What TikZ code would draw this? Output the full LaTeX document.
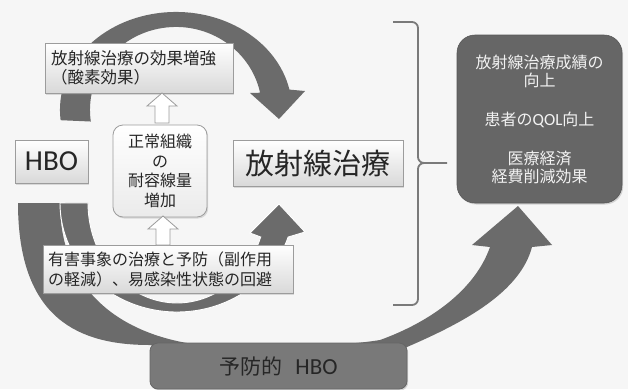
\documentclass[tikz,border=0pt]{standalone}
\usepackage{fontspec}
\setmainfont{Carlito}
\newfontfamily\jp{Noto Sans CJK JP}
\newfontfamily\lat{Carlito}
\usetikzlibrary{shadows}
\definecolor{bg}{HTML}{F6F6F6}
\definecolor{arrowgray}{HTML}{6B6B6B}
\definecolor{darkbox}{HTML}{666666}
\definecolor{boxedge}{HTML}{9C9C9C}
\definecolor{txt}{HTML}{262626}
\definecolor{bracketgray}{HTML}{7A7A7A}
\definecolor{lighttxt}{HTML}{F2F2F2}
\definecolor{midbox}{HTML}{797979}
\begin{document}
\begin{tikzpicture}[x=1pt,y=-1pt,
  lightbox/.style={draw=boxedge, line width=0.8pt, top color=white, bottom color=black!15,
    inner sep=0pt, text=txt,
    drop shadow={opacity=0.25, shadow xshift=1.2pt, shadow yshift=-1.5pt}},
  hollowarrow/.style={draw=boxedge, line width=0.8pt, fill=white},
  bigarrow/.style={fill=arrowgray}]
\useasboundingbox (0,0) rectangle (628,389);
\fill[bg] (0,0) rectangle (628,389);

% big outer arrow (preventive HBO)
\fill[bigarrow] (18,203) .. controls (18,320) and (80,345) .. (150,345)
  .. controls (250,372) and (350,368) .. (407,347)
  .. controls (465,322) and (520,292) .. (532,247)
  -- (552,245) -- (518,206) -- (472,245) -- (490,247)
  .. controls (475,290) and (430,322) .. (380,340)
  .. controls (330,348) and (250,348) .. (200,345)
  .. controls (120,335) and (60,290) .. (60,203) -- cycle;

% inner bottom arc arrow
\path[bigarrow, draw=white, line width=0.9pt] (60,203)
  arc[start angle=180, end angle=18.2, x radius=117, y radius=109]
  -- (305,232) -- (279,204) -- (250,233) -- (260.7,237)
  arc[start angle=19.9, end angle=180, x radius=89, y radius=100] -- cycle;

% top arc arrow
\fill[bigarrow] (60.6,120.2)
  arc[start angle=174, end angle=348, x radius=116, y radius=98]
  -- (305,91) -- (279,119) -- (250,93) -- (260.1,92.7)
  arc[start angle=348, end angle=172, x radius=86, y radius=83] -- cycle;

% bracket
\draw[bracketgray, line width=1.8pt, rounded corners=6pt]
  (393,22) -- (418,22) -- (418,163) -- (447,163);
\draw[bracketgray, line width=1.8pt, rounded corners=6pt]
  (393,305) -- (418,305) -- (418,163) -- (426,163);

% boxes
\node[lightbox, minimum width=188pt, minimum height=50pt, text width=176pt, align=left,
  font=\jp\fontsize{16.5}{19}\selectfont] (effect) at (139,68) {放射線治療の効果増強\\（酸素効果）};
\node[lightbox, minimum width=73pt, minimum height=43pt, font=\lat\fontsize{29}{32}\selectfont]
  (hbo) at (51.5,161.5) {HBO};
\node[lightbox, minimum width=170pt, minimum height=46pt, font=\jp\fontsize{29}{32}\selectfont]
  (rt) at (318,163) {放射線治療};
\node[lightbox, rounded corners=10pt, top color=white, bottom color=black!8,
  minimum width=94pt, minimum height=92pt, align=center,
  font=\jp\fontsize{16}{19.5}\selectfont] (tol) at (160,171) {正常組織\\の\\耐容線量\\増加};
\node[lightbox, minimum width=250pt, minimum height=48pt, text width=240pt, align=left,
  font=\jp\fontsize{16}{20}\selectfont] (adv) at (168,269)
  {有害事象の治療と予防（副作用\\の軽減）、易感染性状態の回避};
\node[fill=darkbox, draw=darkbox!85!black, line width=0.6pt, rounded corners=18pt,
  minimum width=165pt, minimum height=168pt, align=center, text=lighttxt,
  font=\jp\fontsize{16}{18}\selectfont,
  drop shadow={opacity=0.3, shadow xshift=1.2pt, shadow yshift=-1.5pt}] (res) at (539.5,119)
  {放射線治療成績の\\向上\\[21pt]患者の{\lat\fontsize{17}{18}\selectfont QOL}向上\\[21pt]医療経済\\経費削減効果};
\node[fill=midbox, draw=black!60, line width=0.8pt, rounded corners=8pt,
  minimum width=257pt, minimum height=46pt, text=txt,
  drop shadow={opacity=0.3, shadow xshift=1.2pt, shadow yshift=-1.5pt}] (prev) at (278.5,366)
  {{\jp\fontsize{21}{24}\selectfont 予防的}\hspace{13pt}{\lat\fontsize{23}{24}\selectfont HBO}};

% hollow arrows
\path[hollowarrow] (162,93) -- (177,106) -- (169,106) -- (169,123) -- (155,123)
  -- (155,106) -- (147,106) -- cycle;
\path[hollowarrow] (163,216) -- (178,229) -- (170,229) -- (170,245) -- (156,245)
  -- (156,229) -- (148,229) -- cycle;
\end{tikzpicture}
\end{document}
